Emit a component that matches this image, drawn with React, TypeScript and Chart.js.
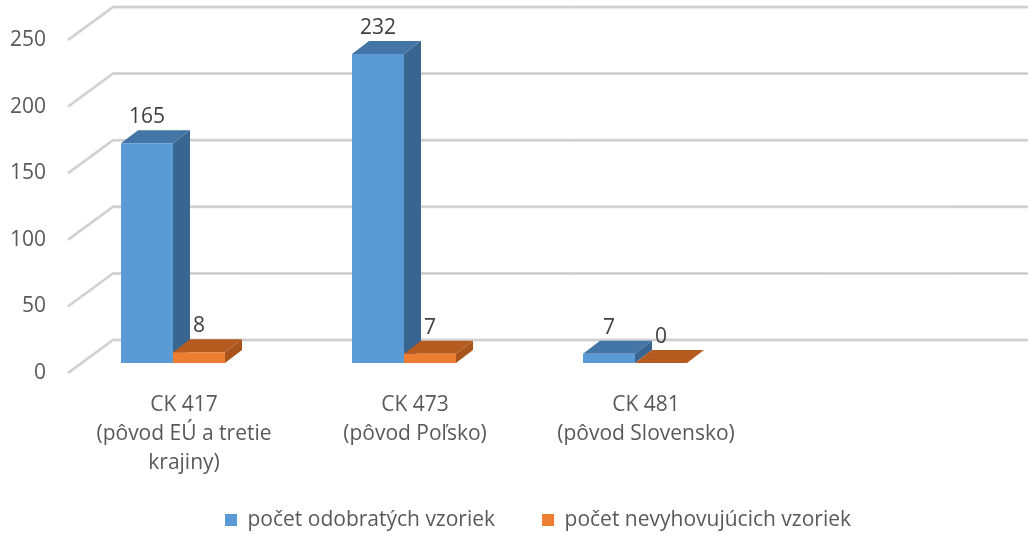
import React, { useEffect, useRef } from 'react';
import { Chart, registerables } from 'chart.js';

Chart.register(...registerables);

const categories = [
  ['CK 417', '(pôvod EÚ a tretie', 'krajiny)'],
  ['CK 473', '(pôvod Poľsko)'],
  ['CK 481', '(pôvod Slovensko)'],
];
const seriesNames = ['počet odobratých vzoriek', 'počet nevyhovujúcich vzoriek'];
const sampledCounts = [165, 232, 7];
const nonCompliantCounts = [8, 7, 0];
const yTicks = [0, 50, 100, 150, 200, 250];

const frontColors = ['#5B9BD5', '#ED7D31'];
const topColors = ['#4375A6', '#B65B20'];
const sideColors = ['#386690', '#A9541D'];

const FONT = '"Open Sans"';
const FONT_SIZE = 21;
const TEXT = '#595959';
const DX = 17;
const DY = -13;
const LEGEND_PAD = 47;

const threeDPlugin = {
  id: 'threeD',
  afterLayout(chart: any) {
    const lg = chart.legend;
    if (lg) {
      lg.left += 24;
      lg.right += 24;
      lg.top -= 15.5;
      lg.bottom -= 15.5;
    }
  },
  beforeDatasetsDraw(chart: any) {
    const { ctx, chartArea, scales } = chart;
    const ys = scales.y;
    ctx.save();
    for (const v of yTicks) {
      const py = ys.getPixelForValue(v);
      const fx = chartArea.left + 10.5;
      const fy = py + 10;
      const bx = chartArea.left + 55.5;
      const by = py - 23;
      ctx.beginPath();
      ctx.moveTo(fx, fy);
      ctx.lineTo(bx, by);
      ctx.lineTo(chart.width, by);
      ctx.lineWidth = 3;
      ctx.strokeStyle = '#DCDCDC';
      ctx.stroke();
      ctx.lineWidth = 1;
      ctx.strokeStyle = '#C6C6C6';
      ctx.stroke();
    }
    const n = chart.data.labels.length;
    for (let i = 0; i < n; i++) {
      for (let d = 0; d < chart.data.datasets.length; d++) {
        const el = chart.getDatasetMeta(d).data[i];
        if (!el) continue;
        const { x, y, base, width } = el.getProps(['x', 'y', 'base', 'width'], true);
        const l = x - width / 2;
        const r = x + width / 2;
        ctx.beginPath();
        ctx.moveTo(l, y);
        ctx.lineTo(l + DX, y + DY);
        ctx.lineTo(r + DX, y + DY);
        ctx.lineTo(r, y);
        ctx.closePath();
        ctx.fillStyle = topColors[d];
        ctx.fill();
        ctx.beginPath();
        ctx.moveTo(r, y);
        ctx.lineTo(r + DX, y + DY);
        ctx.lineTo(r + DX, base + DY);
        ctx.lineTo(r, base);
        ctx.closePath();
        ctx.fillStyle = sideColors[d];
        ctx.fill();
      }
    }
    ctx.restore();
  },
  afterDatasetsDraw(chart: any) {
    const { ctx } = chart;
    ctx.save();
    ctx.font = `${FONT_SIZE}px ${FONT}`;
    ctx.fillStyle = '#404040';
    ctx.textAlign = 'center';
    ctx.textBaseline = 'alphabetic';
    chart.data.datasets.forEach((ds: any, d: number) => {
      chart.getDatasetMeta(d).data.forEach((el: any, i: number) => {
        const { x, y } = el.getProps(['x', 'y'], true);
        ctx.fillText(String(ds.data[i]), x, y + DY - 7);
      });
    });
    ctx.restore();
  },
};

export default function App() {
  const ref = useRef<HTMLCanvasElement>(null);
  useEffect(() => {
    if (!ref.current) return;
    const chart = new Chart(ref.current, {
      type: 'bar',
      data: {
        labels: categories,
        datasets: [
          { label: seriesNames[0], data: sampledCounts, backgroundColor: frontColors[0], borderWidth: 0 },
          { label: seriesNames[1], data: nonCompliantCounts, backgroundColor: frontColors[1], borderWidth: 0 },
        ],
      },
      options: {
        responsive: false,
        animation: false,
        layout: { padding: { top: 30, left: 0, right: 0, bottom: -20 } },
        datasets: { bar: { categoryPercentage: 0.45, barPercentage: 1 } },
        scales: {
          x: {
            grid: { display: false },
            border: { display: false },
            ticks: {
              padding: 20,
              labelOffset: 11,
              autoSkip: false,
              maxRotation: 0,
              color: TEXT,
              font: { family: FONT, size: FONT_SIZE, lineHeight: 29 / FONT_SIZE },
            },
            afterFit: (s: any) => { s.height = 115; },
          },
          y: {
            min: 0,
            max: 250,
            grid: { display: false },
            border: { display: false },
            ticks: {
              stepSize: 50,
              padding: 3.5,
              labelOffset: 10,
              color: TEXT,
              font: { family: FONT, size: FONT_SIZE },
            },
            afterFit: (s: any) => { s.width = 57.5; },
          },
          yR: {
            type: 'linear',
            position: 'right',
            display: true,
            grid: { display: false },
            border: { display: false },
            ticks: { display: false },
            afterFit: (s: any) => { s.width = 277.5; },
          },
        },
        plugins: {
          legend: {
            position: 'bottom',
            labels: {
              boxWidth: 12,
              boxHeight: 12,
              padding: LEGEND_PAD,
              color: TEXT,
              font: { family: FONT, size: FONT_SIZE },
            },
          },
          tooltip: { enabled: false },
        },
      },
      plugins: [threeDPlugin],
    } as any);
    return () => chart.destroy();
  }, []);
  return (
    <div style={{ position: 'fixed', left: 0, top: 0, width: 1028, height: 536, background: '#fff' }}>
      <canvas ref={ref} width={1028} height={536} style={{ display: 'block' }} />
    </div>
  );
}
